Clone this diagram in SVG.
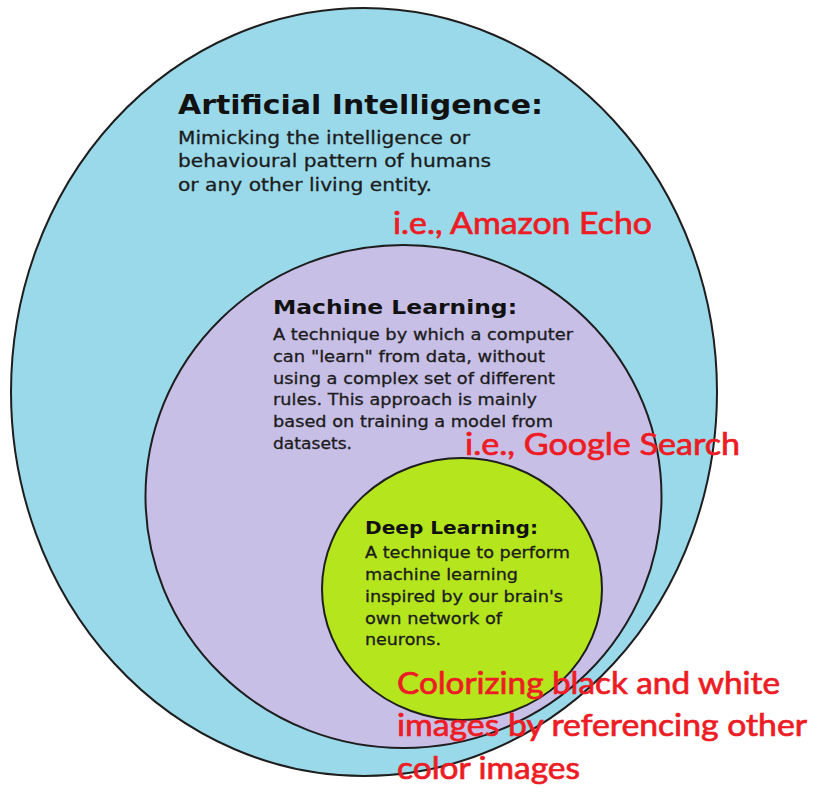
<svg xmlns="http://www.w3.org/2000/svg" width="818" height="792" viewBox="0 0 818 792">
<style>
.ring{stroke:#1e1e1e;stroke-width:2}
.t{font-family:"DejaVu Sans",Verdana,sans-serif;font-weight:bold;fill:#111}
.b{font-family:"DejaVu Sans",Verdana,sans-serif;fill:#1c1c1c;stroke:#1c1c1c;stroke-width:0.3}
.r{font-family:Lato,"Open Sans",sans-serif;fill:#ed1c24;stroke:#ed1c24;stroke-width:0.7}
</style>
<rect width="818" height="792" fill="#ffffff"/>
<g id="ai">
<ellipse class="ring" cx="364" cy="392" rx="353" ry="384" fill="#99d9ea"/>
<text class="t" x="178" y="114" font-size="27" textLength="365" lengthAdjust="spacingAndGlyphs">Artificial Intelligence:</text>
<text class="b" x="178" y="144" font-size="18" textLength="292" lengthAdjust="spacingAndGlyphs">Mimicking the intelligence or</text>
<text class="b" x="178" y="167" font-size="18" textLength="313" lengthAdjust="spacingAndGlyphs">behavioural pattern of humans</text>
<text class="b" x="178" y="191" font-size="18" textLength="254" lengthAdjust="spacingAndGlyphs">or any other living entity.</text>
</g>
<g id="ml">
<ellipse class="ring" cx="403.5" cy="496.5" rx="258" ry="251.5" fill="#c8bfe7"/>
<text class="t" x="273" y="314" font-size="19" textLength="244" lengthAdjust="spacingAndGlyphs">Machine Learning:</text>
<text class="b" x="273" y="340" font-size="15" textLength="300" lengthAdjust="spacingAndGlyphs">A technique by which a computer</text>
<text class="b" x="273" y="362" font-size="15" textLength="272" lengthAdjust="spacingAndGlyphs">can "learn" from data, without</text>
<text class="b" x="273" y="383.5" font-size="15" textLength="282" lengthAdjust="spacingAndGlyphs">using a complex set of different</text>
<text class="b" x="273" y="405" font-size="15" textLength="264" lengthAdjust="spacingAndGlyphs">rules. This approach is mainly</text>
<text class="b" x="273" y="427" font-size="15" textLength="280" lengthAdjust="spacingAndGlyphs">based on training a model from</text>
<text class="b" x="273" y="448.5" font-size="15" textLength="79" lengthAdjust="spacingAndGlyphs">datasets.</text>
</g>
<g id="dl">
<ellipse class="ring" cx="462" cy="589" rx="140" ry="131" fill="#b5e61d"/>
<text class="t" x="365" y="534" font-size="18" textLength="173" lengthAdjust="spacingAndGlyphs">Deep Learning:</text>
<text class="b" x="365" y="558" font-size="15" textLength="205" lengthAdjust="spacingAndGlyphs">A technique to perform</text>
<text class="b" x="365" y="580" font-size="15" textLength="153" lengthAdjust="spacingAndGlyphs">machine learning</text>
<text class="b" x="365" y="602" font-size="15" textLength="198" lengthAdjust="spacingAndGlyphs">inspired by our brain's</text>
<text class="b" x="365" y="624" font-size="15" textLength="137" lengthAdjust="spacingAndGlyphs">own network of</text>
<text class="b" x="365" y="645" font-size="15" textLength="76" lengthAdjust="spacingAndGlyphs">neurons.</text>
</g>
<g id="connectors"></g>
<g id="examples">
<text class="r" x="393" y="234" font-size="30" textLength="259" lengthAdjust="spacingAndGlyphs">i.e., Amazon Echo</text>
<text class="r" x="465" y="455" font-size="30" textLength="275" lengthAdjust="spacingAndGlyphs">i.e., Google Search</text>
<text class="r" x="397" y="694" font-size="30" textLength="383" lengthAdjust="spacingAndGlyphs">Colorizing black and white</text>
<text class="r" x="397" y="736" font-size="30" textLength="410" lengthAdjust="spacingAndGlyphs">images by referencing other</text>
<text class="r" x="397" y="779" font-size="30" textLength="183" lengthAdjust="spacingAndGlyphs">color images</text>
</g>
</svg>
